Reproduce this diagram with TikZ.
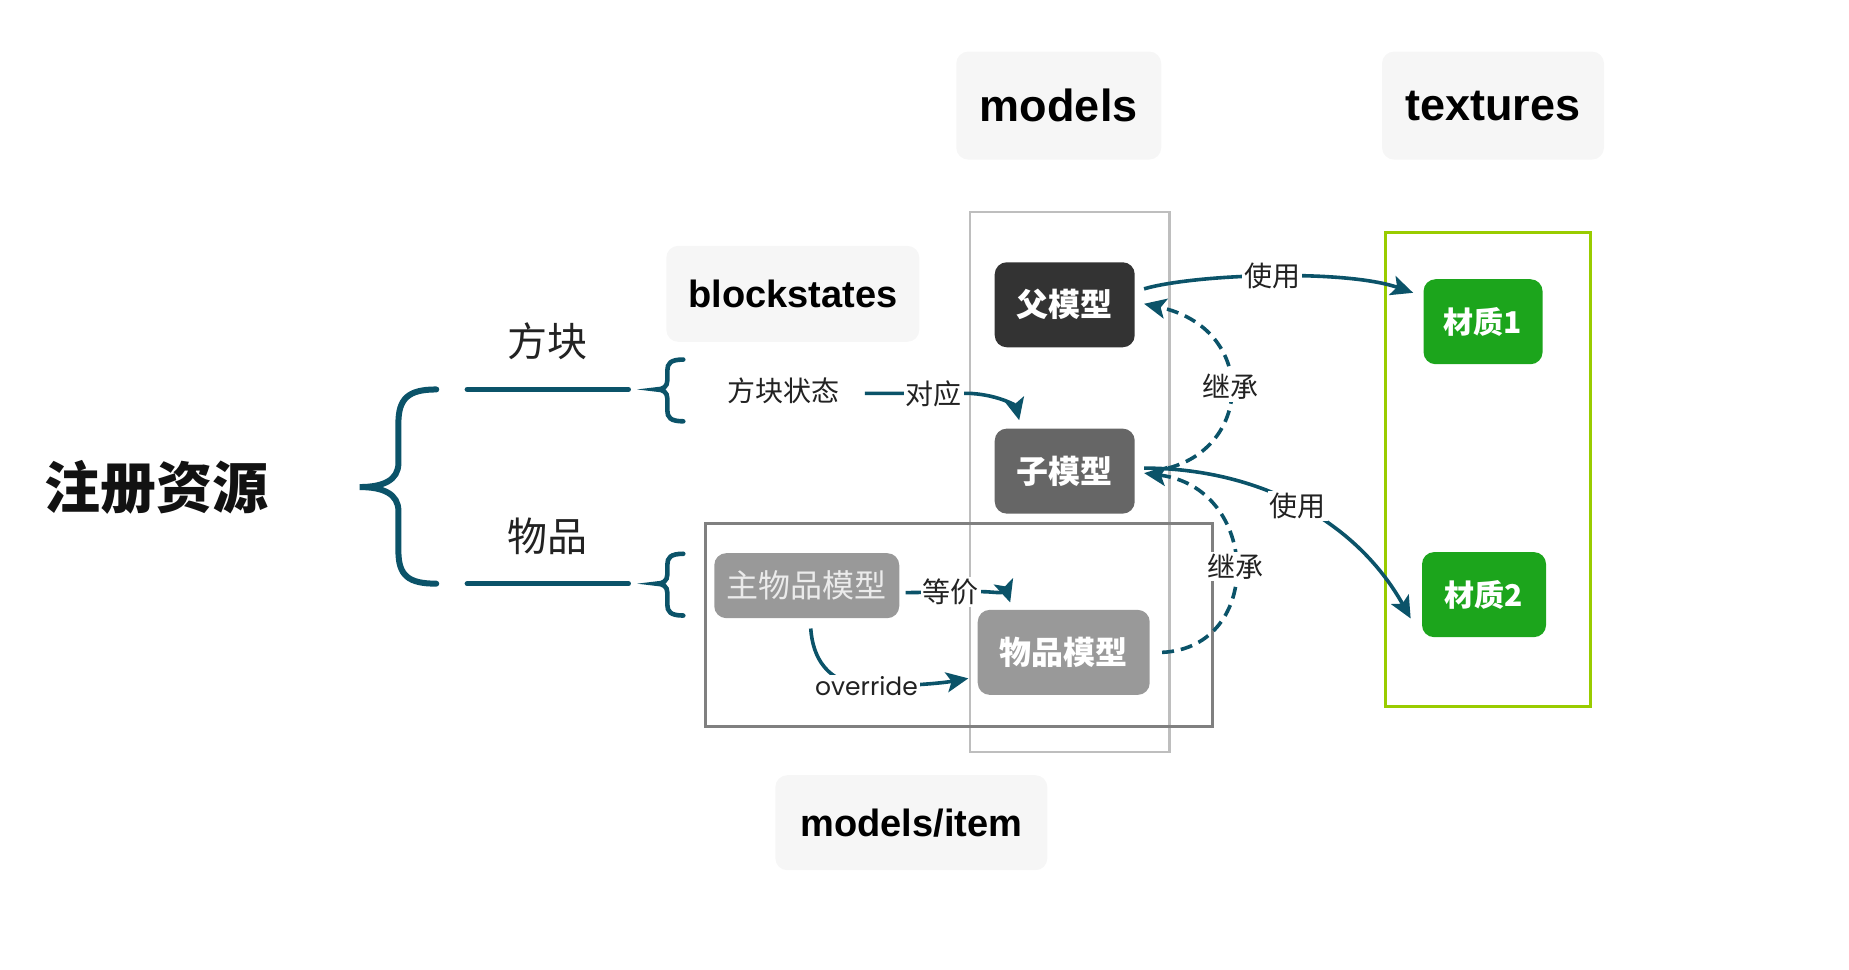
\documentclass[tikz,border=0pt]{standalone}
\usepackage{fontspec}
\setmainfont{Liberation Sans}
\newfontfamily\cjk{Noto Sans CJK SC}
\newfontfamily\ovfont{Poppins}
\usepackage{tikz}
\usepackage{xcolor}
\usetikzlibrary{arrows.meta, positioning, calc}

\definecolor{teal}{RGB}{11,83,105}
\definecolor{tagbg}{RGB}{246,246,246}
\definecolor{colgray}{RGB}{190,190,190}
\definecolor{itemgray}{RGB}{128,128,128}
\definecolor{framegreen}{RGB}{153,204,0}
\definecolor{matgreen}{RGB}{28,165,28}
\definecolor{txt}{RGB}{34,34,34}

\begin{document}
\begin{tikzpicture}[x=0.5pt, y=0.5pt,
    tag/.style={fill=tagbg, rounded corners=6pt, text=black, font=\bfseries\fontsize{19}{23}\selectfont},
    model/.style={rounded corners=6pt, text=white, minimum height=42.5pt, font=\cjk\bfseries\fontsize{16}{19}\selectfont},
    mat/.style={model, fill=matgreen, font=\cjk\bfseries\fontsize{15}{18}\selectfont},
    lbl/.style={fill=white, inner sep=1pt, text=txt, font=\cjk\fontsize{14}{17}\selectfont},
    flow/.style={draw=teal, line width=1.8pt, -{Stealth[length=11pt, width=10pt, inset=2.5pt]}},
    inherit/.style={flow, dash pattern=on 6pt off 3.5pt},
    brace/.style={draw=teal, line cap=round}]
    \useasboundingbox (0,0) rectangle (1849,-970);
    \begin{scope}[scale=0.996]
    % frames
    \draw[colgray, line width=1.3pt] (974,-213) rectangle (1174,-755);
    \draw[itemgray, line width=1.5pt] (708,-526) rectangle (1217,-729);
    \draw[framegreen, line width=1.5pt] (1391,-233) rectangle (1597,-709);

    % folder tags
    \node[tag, minimum width=102.5pt, minimum height=54pt, font=\bfseries\fontsize{22.5}{27}\selectfont] (models) at (1063,-106) {models};
    \node[tag, minimum width=111pt, minimum height=54pt, font=\bfseries\fontsize{22.5}{27}\selectfont] (textures) at (1499,-106) {textures};
    \node[tag, minimum width=126.5pt, minimum height=48pt] (blockstates) at (796,-295) {blockstates};
    \node[tag, minimum width=136pt, minimum height=47.5pt] (modelsitem) at (915,-826) {models/item};

    % left part
    \node[text=black!93, font=\cjk\bfseries\fontsize{28}{34}\selectfont] (reg) at (157,-489) {注册资源};
    \node[text=txt, font=\cjk\fontsize{20}{24}\selectfont] (block) at (550,-343) {方块};
    \node[text=txt, font=\cjk\fontsize{20}{24}\selectfont] (item) at (550,-538) {物品};
    \draw[brace, line width=3pt] (438,-391) .. controls (410,-391) and (400,-400) .. (400,-425) -- (400,-465)
        .. controls (400,-482) and (385,-489) .. (361,-489) .. controls (385,-489) and (400,-496) .. (400,-513)
        -- (400,-553) .. controls (400,-578) and (410,-586) .. (438,-586);
    \foreach \y in {391,586} {
        \draw[brace, line width=2.5pt] (469,-\y) -- (631,-\y);
        \draw[brace, line width=2.3pt] (686,-\y+30) .. controls (673,-\y+30) and (670,-\y+26) .. (670,-\y+19) -- (670,-\y+9)
            .. controls (670,-\y+3) and (666,-\y) .. (659,-\y) .. controls (666,-\y) and (670,-\y-3) .. (670,-\y-9)
            -- (670,-\y-21) .. controls (670,-\y-28) and (673,-\y-32) .. (686,-\y-32);
    }
    \node[text=txt, font=\cjk\fontsize{14}{17}\selectfont] (bstate) at (787,-392) {方块状态};

    % models
    \node[model, fill=black!80, minimum width=70pt] (parent) at (1069,-306) {父模型};
    \node[model, fill=black!60, minimum width=70pt] (child) at (1069,-473) {子模型};
    \node[model, fill=black!40, minimum width=86pt] (itemmodel) at (1068,-655) {物品模型};
    \node[model, fill=black!40, minimum width=92.5pt, minimum height=32.5pt, text=white!92!black, font=\cjk\fontsize{16}{19}\selectfont] (mainitem) at (810,-588) {主物品模型};

    % textures
    \node[mat, minimum width=59.5pt] (mat1) at (1489,-323) {材质1};
    \node[mat, minimum width=62pt] (mat2) at (1490,-597) {材质2};

    % connectors
    \draw[flow] ([xshift=9pt,yshift=-1.5pt]bstate.east) -- node[lbl, pos=0.65] {对应} (975,-395)
        .. controls (1005,-397) and (1020,-408) .. ($(child.north west)+(25,8)$);
    \draw[flow] ($(parent.east)+(9,16)$) .. controls (1200,-275) and (1350,-270) .. ($(mat1.west)+(-10,29)$)
        node[lbl, pos=0.5] {使用};
    \draw[flow] ($(child.east)+(9,3)$) .. controls (1260,-470) and (1360,-520) .. ($(mat2.west)+(-11,-24)$)
        node[lbl, pos=0.5] {使用};
    \draw[inherit] ($(child.east)+(33,3)$) .. controls (1258,-448) and (1262,-330) .. ($(parent.east)+(9,1)$)
        node[lbl, pos=0.5] {继承};
    \draw[inherit] ($(itemmodel.east)+(12,0)$) .. controls (1270,-650) and (1265,-490) .. ($(child.east)+(9,-2)$)
        node[lbl, pos=0.5] {继承};
    \draw[flow] ($(mainitem.east)+(6,-7)$) -- node[lbl, pos=0.6] {等价} (985,-594)
        .. controls (1000,-594) and (1012,-598) .. ($(itemmodel.north west)+(33,7)$);
    \draw[flow] ($(mainitem.south)+(4,-10)$) .. controls (816,-660) and (830,-686) .. (870,-689)
        node[lbl, font=\ovfont\fontsize{12.5}{15}\selectfont] {override}
        .. controls (910,-689) and (945,-686) .. ($(itemmodel.south west)+(-9,17)$);
    \end{scope}
\end{tikzpicture}
\end{document}
